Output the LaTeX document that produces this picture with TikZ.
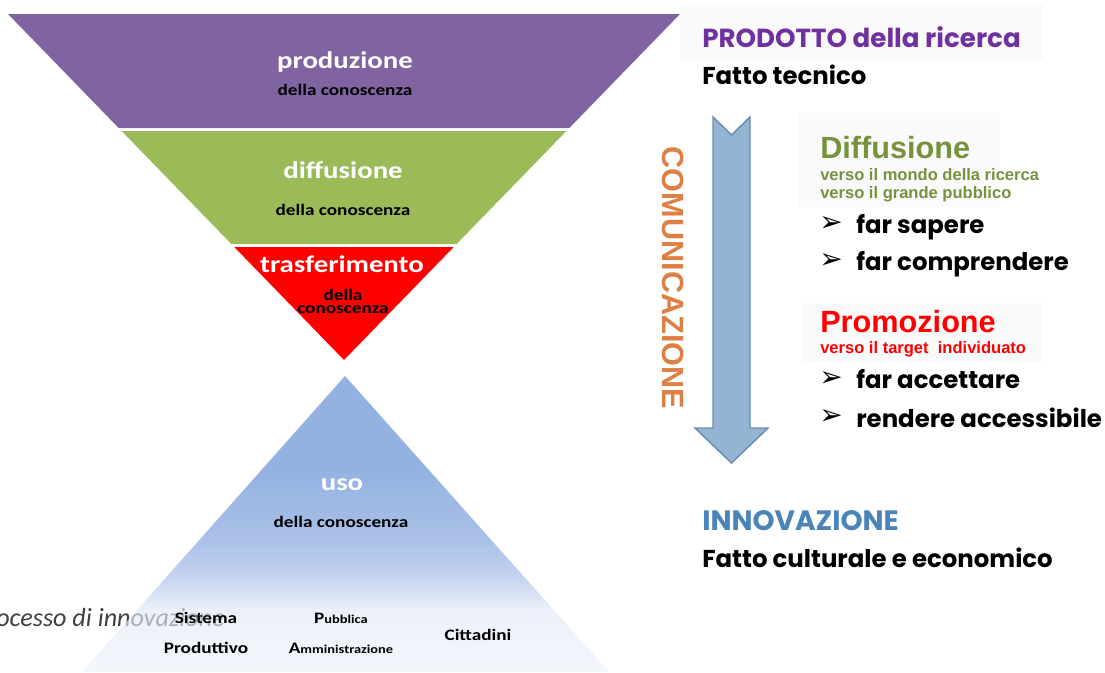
\documentclass[tikz,border=0pt]{standalone}
\usepackage{fontspec}
\usepackage{graphicx}
\setmainfont{Carlito}
\newfontfamily\calfont{Carlito}
\newfontfamily\gothfont{Poppins}
\newfontfamily\arialfont{Liberation Sans}
\newfontfamily\symfont{DejaVu Sans}

\definecolor{prodC}{HTML}{8064A2}
\definecolor{diffC}{HTML}{9BBB59}
\definecolor{trasC}{HTML}{FF0000}
\definecolor{usoA}{HTML}{5C8AD2}
\definecolor{usoB}{HTML}{7CA0DC}
\definecolor{usoC}{HTML}{AAC0E8}
\definecolor{usoD}{HTML}{E2EAF7}
\definecolor{usoE}{HTML}{EEF3FA}
\definecolor{arrowFill}{HTML}{93B4D3}
\definecolor{arrowLine}{HTML}{6C8CAE}
\definecolor{comC}{HTML}{DE7F45}
\definecolor{prodTxt}{HTML}{7030A0}
\definecolor{innoTxt}{HTML}{4A84BA}
\definecolor{diffTxt}{HTML}{76923C}
\definecolor{promTxt}{HTML}{FF0000}
\definecolor{italTxt}{HTML}{404040}
\definecolor{panel}{HTML}{FAFAFA}

% light-to-blue gradient of the "uso" triangle
\pgfdeclareverticalshading{usoshade}{100bp}{color(0bp)=(usoE); color(25bp)=(usoE); color(35.5bp)=(usoD); color(40.5bp)=(usoC); color(47.3bp)=(usoB); color(59bp)=(usoA); color(100bp)=(usoA)}

% horizontal stretch used by the funnel labels
\newcommand\sx[1]{\scalebox{1.2}[1]{#1}}

\tikzset{
  big/.style={font=\calfont\bfseries\fontsize{18}{20}\selectfont, text=white, anchor=base, inner sep=0pt},
  small/.style={font=\calfont\bfseries\fontsize{12}{13}\selectfont, text=black, anchor=base, inner sep=0pt},
  tiny/.style={font=\calfont\bfseries\fontsize{9}{10}\selectfont, text=black, anchor=base, inner sep=0pt},
  goth/.style={font=\gothfont\bfseries\fontsize{18.3}{22}\selectfont, anchor=base west, inner sep=0pt},
  gothhead/.style={goth, font=\gothfont\bfseries\fontsize{19.6}{22}\selectfont},
  headA/.style={font=\arialfont\bfseries\fontsize{23}{26}\selectfont, anchor=base west, inner sep=0pt},
  noteA/.style={font=\arialfont\bfseries\fontsize{12.4}{14}\selectfont, anchor=base west, inner sep=0pt},
  bul/.style={font=\symfont\fontsize{21}{22}\selectfont, anchor=center, inner sep=0pt},
  panelbox/.style={fill=panel, draw=none},
}

\begin{document}
\begin{tikzpicture}[x=0.75pt, y=-0.75pt]
\useasboundingbox (0,0) rectangle (1105,672);
\fill[white] (0,0) rectangle (1105,672);

% ---- inverted funnel: produzione / diffusione / trasferimento
\fill[prodC] (8,14) -- (680,14) -- (569.3,128) -- (118.7,128) -- cycle;
\fill[diffC] (121.6,131) -- (566.4,131) -- (456.6,244) -- (231.4,244) -- cycle;
\fill[trasC] (234.3,247) -- (453.7,247) -- (344,360) -- cycle;

\node[big]   (prod)   at (345,68)  {\sx{produzione}};
\node[small] (prodS)  at (345,95)  {\sx{della conoscenza}};
\node[big]   (diff)   at (343,178) {\sx{diffusione}};
\node[small] (diffS)  at (343,215) {\sx{della conoscenza}};
\node[big]   (tras)   at (342,272) {\sx{trasferimento}};
\node[small] (trasS1) at (343,300) {\sx{della}};
\node[small] (trasS2) at (343,313) {\sx{conoscenza}};

% ---- caption partly covered by the triangle
\node[font=\calfont\itshape\fontsize{19.6}{22}\selectfont, text=italTxt, anchor=base west, inner sep=0pt]
  (capt) at (-4,626) {ocesso di innovazione};

% ---- uso triangle
\shade[shading=usoshade, fill opacity=0.65] (345,376) -- (609,672) -- (82,672) -- cycle;

\node[big]   (uso)   at (342,490) {\sx{uso}};
\node[small] (usoS)  at (341,527) {\sx{della conoscenza}};
\node[small] (sis1)  at (206,623) {\sx{Sistema}};
\node[small] (sis2)  at (206,653) {\sx{Produttivo}};
\node[tiny]  (pub1)  at (341,623) {\sx{{\fontsize{12}{13}\selectfont P}ubblica}};
\node[tiny]  (pub2)  at (341,653) {\sx{{\fontsize{12}{13}\selectfont A}mministrazione}};
\node[small] (citt)  at (478,640) {\sx{Cittadini}};

% ---- faint panels behind the headings
\fill[panelbox] (680,5) rectangle (1043,60);
\fill[panelbox] (797,113) rectangle (1000,207);
\fill[panelbox] (803,303) rectangle (1043,362);

% ---- right column
\node[gothhead, text=prodTxt] (prodotto) at (702,47) {PRODOTTO della ricerca};
\node[goth, text=black]       (fatto1)   at (702,84) {Fatto tecnico};

\node[font=\arialfont\bfseries\fontsize{23}{26}\selectfont, text=comC, rotate=-90, inner sep=0pt]
  (comun) at (673,278) {COMUNICAZIONE};

\draw[fill=arrowFill, draw=arrowLine, line width=1.1pt, line join=miter]
  (713,117) -- (731.5,135) -- (750,117) -- (750,428) -- (768,428) -- (731.5,463)
  -- (695,428) -- (713,428) -- cycle;

\node[headA, text=diffTxt] (diffH)  at (820,158) {Diffusione};
\node[noteA, text=diffTxt] (diffN1) at (820,180) {verso il mondo della ricerca};
\node[noteA, text=diffTxt] (diffN2) at (820,198) {verso il grande pubblico};
\node[bul] (b1) at (831,224) {➢};
\node[goth] (sap)  at (856,233) {far sapere};
\node[bul] (b2) at (831,261) {➢};
\node[goth] (comp) at (856,270) {far comprendere};

\node[headA, text=promTxt] (promH) at (820,332) {Promozione};
\node[noteA, text=promTxt] (promN) at (820,353) {verso il target\ \ individuato};
\node[bul] (b3) at (831,379) {➢};
\node[goth] (acc)  at (856,388) {far accettare};
\node[bul] (b4) at (831,417) {➢};
\node[goth] (rend) at (856,427) {rendere accessibile};

\node[goth, text=innoTxt, font=\gothfont\bfseries\fontsize{21}{24}\selectfont] (inno) at (702,530) {INNOVAZIONE};
\node[goth, text=black]   (fatto2) at (702,567) {Fatto culturale e economico};
\end{tikzpicture}
\end{document}
